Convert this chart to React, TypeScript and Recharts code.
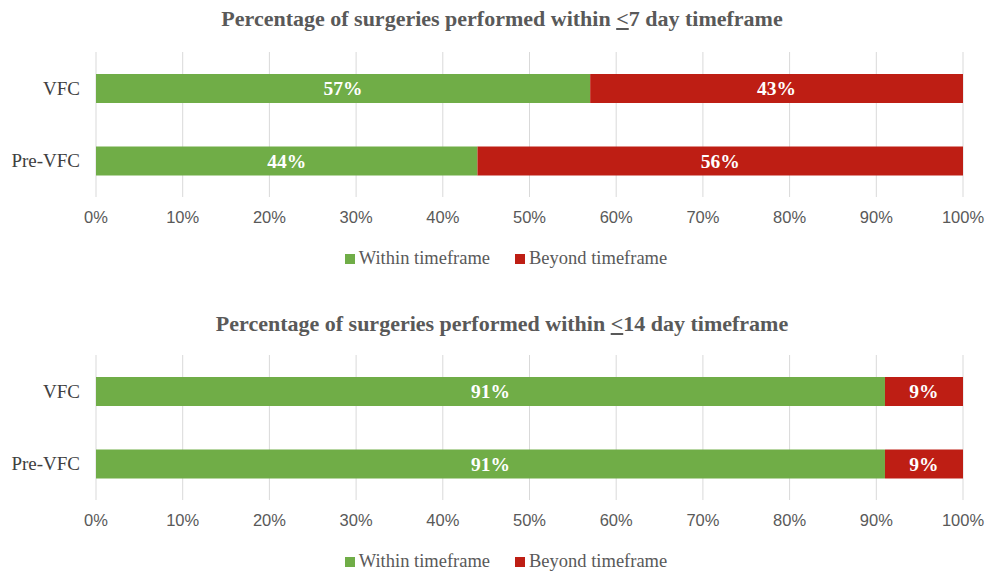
import { BarChart, Bar, XAxis, YAxis, CartesianGrid, Legend, LabelList } from "recharts";

const categories = ["VFC", "Pre-VFC"];
const within7 = [57, 44];
const beyond7 = [43, 56];
const within14 = [91, 91];
const beyond14 = [9, 9];
const xTicks = [0, 10, 20, 30, 40, 50, 60, 70, 80, 90, 100];

const GREEN = "#70AD47";
const RED = "#BE1E14";
const SERIF = "'Liberation Serif', 'Times New Roman', serif";

function buildRows(within: number[], beyond: number[]) {
  return categories.map((name, i) => ({ name, within: within[i], beyond: beyond[i] }));
}

function LegendBox() {
  const items = [
    { label: "Within timeframe", color: GREEN },
    { label: "Beyond timeframe", color: RED },
  ];
  return (
    <div style={{ display: "flex", justifyContent: "center", gap: 25, fontFamily: SERIF, fontSize: 18.5, color: "#595959", paddingLeft: 49, marginTop: 3 }}>
      {items.map(it => (
        <span key={it.label} style={{ display: "flex", alignItems: "center" }}>
          <span style={{ width: 10, height: 10, background: it.color, display: "inline-block", marginRight: 4 }} />
          {it.label}
        </span>
      ))}
    </div>
  );
}

interface Props {
  top: number;
  height: number;
  plotTop: number;
  legendGap: number;
  title: string;
  within: number[];
  beyond: number[];
}

function StackChart({ top, height, plotTop, legendGap, title, within, beyond }: Props) {
  const rows = buildRows(within, beyond);
  const labelStyle = { fill: "#fff", fontFamily: SERIF, fontSize: 19.5, fontWeight: 700 };
  return (
    <div style={{ position: "absolute", left: 0, top, width: 986, height }}>
      <div style={{ position: "absolute", left: 9, top: 6, width: 986, textAlign: "center", fontFamily: SERIF, fontSize: 22, fontWeight: 700, color: "#595959", zIndex: 1 }}>
        Percentage of surgeries performed within <u>&lt;</u>{title} day timeframe
      </div>
      <BarChart width={986} height={height} data={rows} layout="vertical" margin={{ top: plotTop, right: 23, bottom: legendGap, left: 0 }}>
        <CartesianGrid horizontal={false} stroke="#D9D9D9" />
        <XAxis type="number" domain={[0, 100]} ticks={xTicks} tickFormatter={(v: number) => v + "%"} axisLine={false} tickSize={0} tickMargin={14} height={48}
          tick={{ fill: "#595959", fontSize: 16.5, fontFamily: "'Liberation Sans', Arial, sans-serif" }} interval={0} />
        <YAxis type="category" dataKey="name" width={96} axisLine={false} tickSize={0} tickMargin={16}
          tick={{ fill: "#404040", fontSize: 19, fontFamily: SERIF }} />
        <Legend verticalAlign="bottom" height={24} content={() => <LegendBox />} />
        <Bar dataKey="within" stackId="a" fill={GREEN} barSize={29} isAnimationActive={false}>
          <LabelList dataKey="within" position="center" formatter={(v: any) => v + "%"} style={labelStyle} />
        </Bar>
        <Bar dataKey="beyond" stackId="a" fill={RED} barSize={29} isAnimationActive={false}>
          <LabelList dataKey="beyond" position="center" formatter={(v: any) => v + "%"} style={labelStyle} />
        </Bar>
      </BarChart>
    </div>
  );
}

export default function App() {
  return (
    <div style={{ position: "absolute", left: 0, top: 0, width: 986, height: 572, background: "#fff" }}>
      <StackChart top={0} height={285} plotTop={52} legendGap={16} title="7" within={within7} beyond={beyond7} />
      <StackChart top={305} height={267} plotTop={50} legendGap={0} title="14" within={within14} beyond={beyond14} />
    </div>
  );
}
